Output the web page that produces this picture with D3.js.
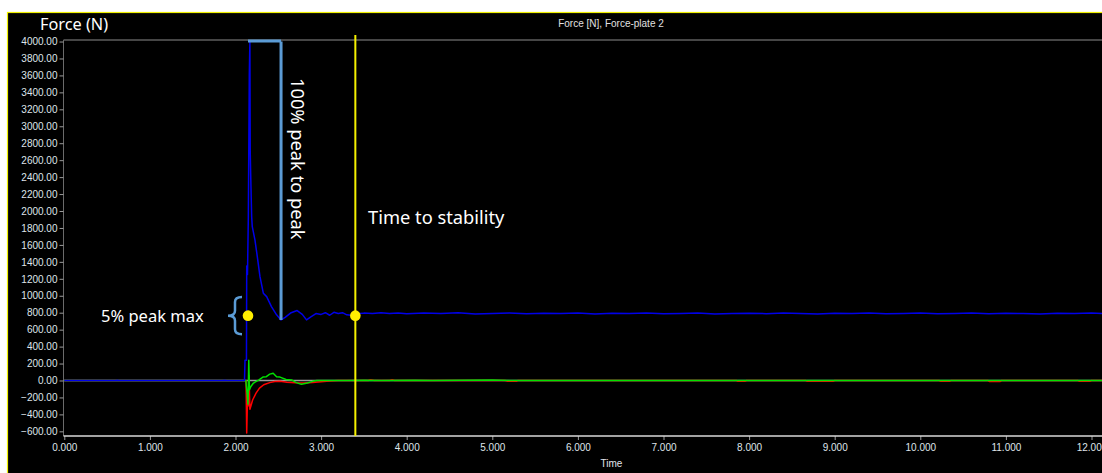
<!DOCTYPE html>
<html>
<head>
<meta charset="utf-8">
<script src="https://cdn.jsdelivr.net/npm/d3@7"></script>
<style>
  html, body { margin: 0; padding: 0; background: #fff; }
  svg { display: block; }
</style>
</head>
<body>
<svg id="chart" width="1102" height="473"></svg>
<script>
// Force-plate recording: vertical force (blue) and two shear components (red, green)
const blueTime = [0, 0.6, 0.62, 0.64, 1.85, 1.87, 1.9, 2.105, 2.111, 2.128, 2.131, 2.140, 2.150, 2.161, 2.168, 2.172, 2.177, 2.189, 2.196, 2.227, 2.255, 2.286, 2.325, 2.364, 2.42, 2.48, 2.532, 2.58, 2.65, 2.72, 2.78, 2.83, 2.88, 2.94, 3.00, 3.05, 3.10, 3.15, 3.20, 3.25, 3.30, 3.35, 3.40, 3.45, 3.50, 3.6, 3.7, 3.8, 3.9, 4.0, 4.2, 4.4, 4.6, 4.8, 5.0, 5.2, 5.4, 5.6, 5.8, 6.0, 6.2, 6.4, 6.6, 6.8, 7.0, 7.2, 7.4, 7.6, 7.8, 8.0, 8.2, 8.4, 8.6, 8.8, 9.0, 9.2, 9.4, 9.6, 9.8, 10.0, 10.2, 10.4, 10.6, 10.8, 11.0, 11.2, 11.4, 11.6, 11.8, 12.0, 12.2, 12.5];
const blueForce = [0, 0, 3, 0, 0, 4, 0, 0, 240, 240, 1350, 1250, 1930, 3600, 4000, 2700, 2450, 1930, 1815, 1660, 1460, 1225, 1030, 990, 872, 775, 715, 745, 800, 825, 780, 715, 750, 790, 780, 800, 770, 805, 790, 800, 775, 770, 765, 790, 795, 790, 798, 792, 796, 788, 795, 790, 798, 785, 792, 796, 788, 794, 790, 797, 786, 793, 790, 795, 788, 792, 796, 785, 790, 794, 789, 796, 790, 786, 793, 790, 797, 788, 792, 795, 787, 792, 796, 789, 793, 790, 786, 794, 790, 795, 789, 792];

const redTime = [0, 2.123, 2.131, 2.140, 2.148, 2.158, 2.168, 2.18, 2.20, 2.24, 2.28, 2.33, 2.40, 2.46, 2.52, 2.60, 2.70, 2.80, 2.90, 3.00, 3.10, 3.20, 3.55, 3.58, 3.62, 3.80, 3.83, 3.86, 5.15, 5.18, 5.28, 5.30, 7.85, 7.87, 7.95, 7.97, 8.66, 8.68, 8.98, 9.00, 10.22, 10.24, 10.34, 10.36, 10.79, 10.81, 10.93, 10.95, 11.84, 11.86, 11.98, 12.0, 12.5];
const redForce = [0, 0, -620, -240, -300, 60, -340, -300, -230, -150, -90, -50, -25, -12, -10, -20, -28, -30, -25, -15, -5, 0, 0, 10, 0, 0, 8, 0, 0, -10, -10, 0, 0, -10, -10, 0, 0, -10, -10, 0, 0, -10, -10, 0, 0, -12, -12, 0, 0, -10, -10, 0, 0];

const greenTime = [0, 2.120, 2.128, 2.138, 2.146, 2.155, 2.163, 2.18, 2.21, 2.27, 2.32, 2.36, 2.40, 2.44, 2.48, 2.52, 2.59, 2.66, 2.71, 2.77, 2.84, 2.90, 2.95, 3.3, 3.5, 3.7, 4.1, 4.3, 5.0, 5.2, 12.5];
const greenForce = [0, 0, -80, -180, -280, 240, -110, -70, -30, 5, 40, 45, 75, 86, 45, 40, 12, 5, -25, -45, -30, -10, 0, 0, 3, 0, 4, 0, 5, 0, 0];

const yTickValues = d3.range(-600, 4001, 200);
const xTickValues = d3.range(0, 13, 1);

// Annotation values (seconds / newtons)
const onsetTime = 2.146;
const peakForce = 4000;
const minTime = 2.532;
const minForce = 715;
const stableTime = 3.4;
const bodyWeight = 765;
const bandHalf = 220;

const svg = d3.select("#chart");
const W = 1102, H = 473;

// Panel
svg.append("rect").attr("x", 7.5).attr("y", 12.5).attr("width", W).attr("height", H)
  .attr("fill", "#000").attr("stroke", "#f0f000").attr("stroke-width", 1.2);

const plotLeft = 63.5, plotRight = 1134, plotTop = 40, plotBottom = 436;
const x = d3.scaleLinear().domain([0, 12.5]).range([64.3, 1134.3]);
const y = d3.scaleLinear().domain([-655, 4018]).range([plotBottom, plotTop]);

svg.append("defs").append("clipPath").attr("id", "plotclip")
  .append("rect").attr("x", plotLeft).attr("y", plotTop - 2)
  .attr("width", plotRight - plotLeft).attr("height", plotBottom - plotTop + 2);

// Frame lines
svg.append("line").attr("x1", plotLeft).attr("x2", W).attr("y1", plotTop).attr("y2", plotTop)
  .attr("stroke", "#5e5e5e").attr("stroke-width", 1.5);
svg.append("line").attr("x1", plotLeft).attr("x2", plotLeft).attr("y1", plotTop).attr("y2", plotBottom)
  .attr("stroke", "#6a6a6a").attr("stroke-width", 1);

// Y axis
const yAxis = svg.append("g").attr("transform", `translate(${plotLeft},0)`)
  .call(d3.axisLeft(y).tickValues(yTickValues).tickFormat(d3.format(".2f")).tickSize(4).tickPadding(2));
yAxis.select(".domain").remove();
yAxis.selectAll(".tick line").attr("stroke", "#9a9a9a");
yAxis.selectAll(".tick text").attr("fill", "#dfe4ea")
  .style("font-family", "'Liberation Sans', Arial, sans-serif").style("font-size", "10px");

// X axis
const xAxis = svg.append("g").attr("transform", `translate(0,${plotBottom})`)
  .call(d3.axisBottom(x).tickValues(xTickValues).tickFormat(d3.format(".3f")).tickSize(4).tickPadding(4));
xAxis.select(".domain").remove();
xAxis.selectAll(".tick line").attr("stroke", "#9a9a9a");
xAxis.selectAll(".tick text").attr("fill", "#dfe4ea")
  .style("font-family", "'Liberation Sans', Arial, sans-serif").style("font-size", "10px");
svg.append("line").attr("x1", plotLeft).attr("x2", W).attr("y1", plotBottom).attr("y2", plotBottom)
  .attr("stroke", "#d8d8d8").attr("stroke-width", 1.5);

// Traces
const plot = svg.append("g").attr("clip-path", "url(#plotclip)");
plot.append("line").attr("x1", plotLeft).attr("x2", plotRight).attr("y1", y(0)).attr("y2", y(0))
  .attr("stroke", "#9a9a9a").attr("stroke-width", 1.5);

const line = d3.line().x(d => x(d[0])).y(d => y(d[1]));
const series = [
  { t: redTime, f: redForce, color: "#ff0000" },
  { t: greenTime, f: greenForce, color: "#00e000" },
  { t: blueTime, f: blueForce, color: "#0000e8" }
];
series.forEach(s => {
  plot.append("path").datum(d3.zip(s.t, s.f)).attr("d", line)
    .attr("fill", "none").attr("stroke", s.color).attr("stroke-width", 1.5)
    .attr("stroke-linejoin", "round");
});

// Time-to-stability marker
svg.append("line").attr("x1", x(stableTime)).attr("x2", x(stableTime)).attr("y1", 35).attr("y2", plotBottom)
  .attr("stroke", "#f5f000").attr("stroke-width", 2);

// Peak-to-peak bracket
const bracketColor = "#5b9bd5";
svg.append("path")
  .attr("d", `M${x(onsetTime)},${y(peakForce) - 0.5} H${x(minTime)} M${x(minTime)},${y(peakForce)} V${y(minForce)}`)
  .attr("fill", "none").attr("stroke", bracketColor).attr("stroke-width", 3);

// 5% band brace
const bx = x(onsetTime) - 13, yt = y(bodyWeight + bandHalf), yb = y(bodyWeight - bandHalf), ym = y(bodyWeight);
svg.append("path")
  .attr("d", `M${bx + 7},${yt} Q${bx},${yt} ${bx},${yt + 5} L${bx},${ym - 5} Q${bx},${ym} ${bx - 7},${ym} Q${bx},${ym} ${bx},${ym + 5} L${bx},${yb - 5} Q${bx},${yb} ${bx + 7},${yb}`)
  .attr("fill", "none").attr("stroke", bracketColor).attr("stroke-width", 2.5);

// Onset / stability points
[onsetTime, stableTime].forEach(t => {
  svg.append("circle").attr("cx", x(t)).attr("cy", y(bodyWeight)).attr("r", 5.3).attr("fill", "#ffee00");
});

// Text
const ui = "'Noto Sans', 'Open Sans', sans-serif";
svg.append("text").attr("x", 40).attr("y", 30).text("Force (N)")
  .attr("fill", "#fff").style("font-family", ui).style("font-size", "16.3px");
svg.append("text").attr("x", 611).attr("y", 27).attr("text-anchor", "middle").text("Force [N], Force-plate 2")
  .attr("fill", "#e0e0e0").style("font-family", "'Liberation Sans', Arial, sans-serif").style("font-size", "10px");
svg.append("text").attr("x", 611.5).attr("y", 467).attr("text-anchor", "middle").text("Time")
  .attr("fill", "#e0e4ea").style("font-family", "'Liberation Sans', Arial, sans-serif").style("font-size", "10px");
svg.append("text").attr("transform", "translate(291,78) rotate(90)").text("100% peak to peak")
  .attr("fill", "#fff").style("font-family", ui).style("font-size", "18.3px");
svg.append("text").attr("x", 368).attr("y", 224).text("Time to stability")
  .attr("fill", "#fff").style("font-family", ui).style("font-size", "18.3px");
svg.append("text").attr("x", 101).attr("y", 321.5).text("5% peak max")
  .attr("fill", "#fff").style("font-family", ui).style("font-size", "16.5px");
</script>
</body>
</html>
